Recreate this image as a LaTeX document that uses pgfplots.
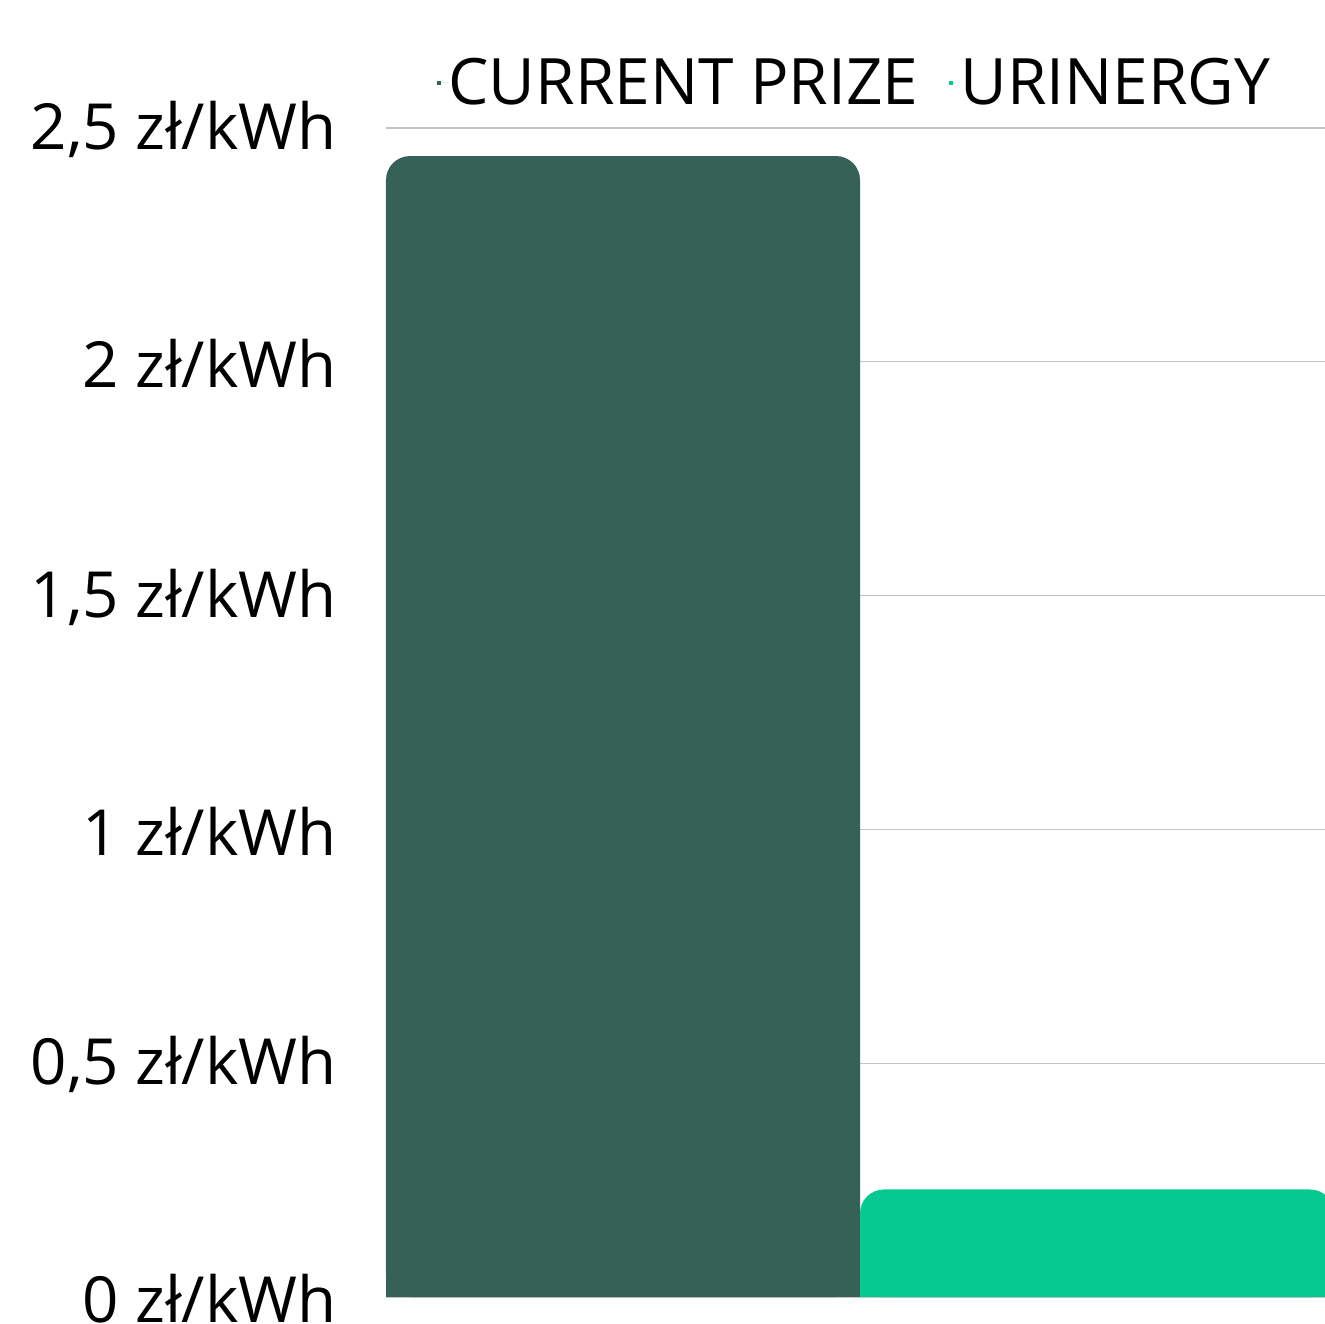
\documentclass[border=0pt]{standalone}
\usepackage{pgfplots}
\pgfplotsset{compat=1.18}
\usepackage{fontspec}
\setmainfont{Open Sans}
\definecolor{darkbar}{HTML}{356157}
\definecolor{lightbar}{HTML}{06C992}
\definecolor{gridc}{HTML}{C4C4C4}
\begin{document}
\begin{tikzpicture}
\begin{axis}[
  scale only axis,
  width=469.5pt, height=584.5pt,
  xmin=-0.5, xmax=1.481,
  ymin=0, ymax=2.5,
  axis line style={draw=none},
  ytick={0,0.5,1,1.5,2,2.5},
  yticklabels={{0 zł/kWh},{0,5 zł/kWh},{1 zł/kWh},{1,5 zł/kWh},{2 zł/kWh},{2,5 zł/kWh}},
  xtick=\empty,
  ymajorgrids,
  grid style={gridc, line width=0.6pt},
  major tick length=0pt,
  yticklabel style={font=\fontsize{31.8}{40}\selectfont, inner sep=0pt, anchor=east, xshift=-24.5pt, yshift=-0.8pt},
  clip=true,
  legend columns=2,
  legend style={at={(0.5,1)}, anchor=south, draw=none, fill=none,
    font=\fontsize{32}{40}\selectfont, yshift=8pt, xshift=-1pt,
    /tikz/every even column/.append style={column sep=15pt},
    nodes={inner sep=0pt}},
  legend cell align=left,
]
% square lower parts of the bars
\addplot[ybar, bar width=1, bar shift=0pt, fill=darkbar, draw=none, forget plot, y filter/.expression={y*0.5}]
  coordinates {(0,2.44)};
\addplot[ybar, bar width=1, bar shift=0pt, fill=lightbar, draw=none, forget plot, y filter/.expression={y*0.5}]
  coordinates {(1,0.23)};
\addplot[ybar, bar width=1, bar shift=0pt, fill=darkbar, draw=none, rounded corners=12pt,
  legend image code/.code={\fill[darkbar, sharp corners] (0pt,-1pt) rectangle (2pt,1pt); \path (0pt,0pt) -- (6pt,0pt);}]
  coordinates {(0,2.44)};
\addlegendentry{CURRENT PRIZE}
\addplot[ybar, bar width=1, bar shift=0pt, fill=lightbar, draw=none, rounded corners=12pt,
  legend image code/.code={\fill[lightbar, sharp corners] (0pt,-1pt) rectangle (2pt,1pt); \path (0pt,0pt) -- (6pt,0pt);}]
  coordinates {(1,0.23)};
\addlegendentry{URINERGY}
\end{axis}
\pgfresetboundingbox
\path[use as bounding box] (-193pt,-13pt) rectangle (469.5pt,648.5pt);
\end{tikzpicture}
\end{document}
